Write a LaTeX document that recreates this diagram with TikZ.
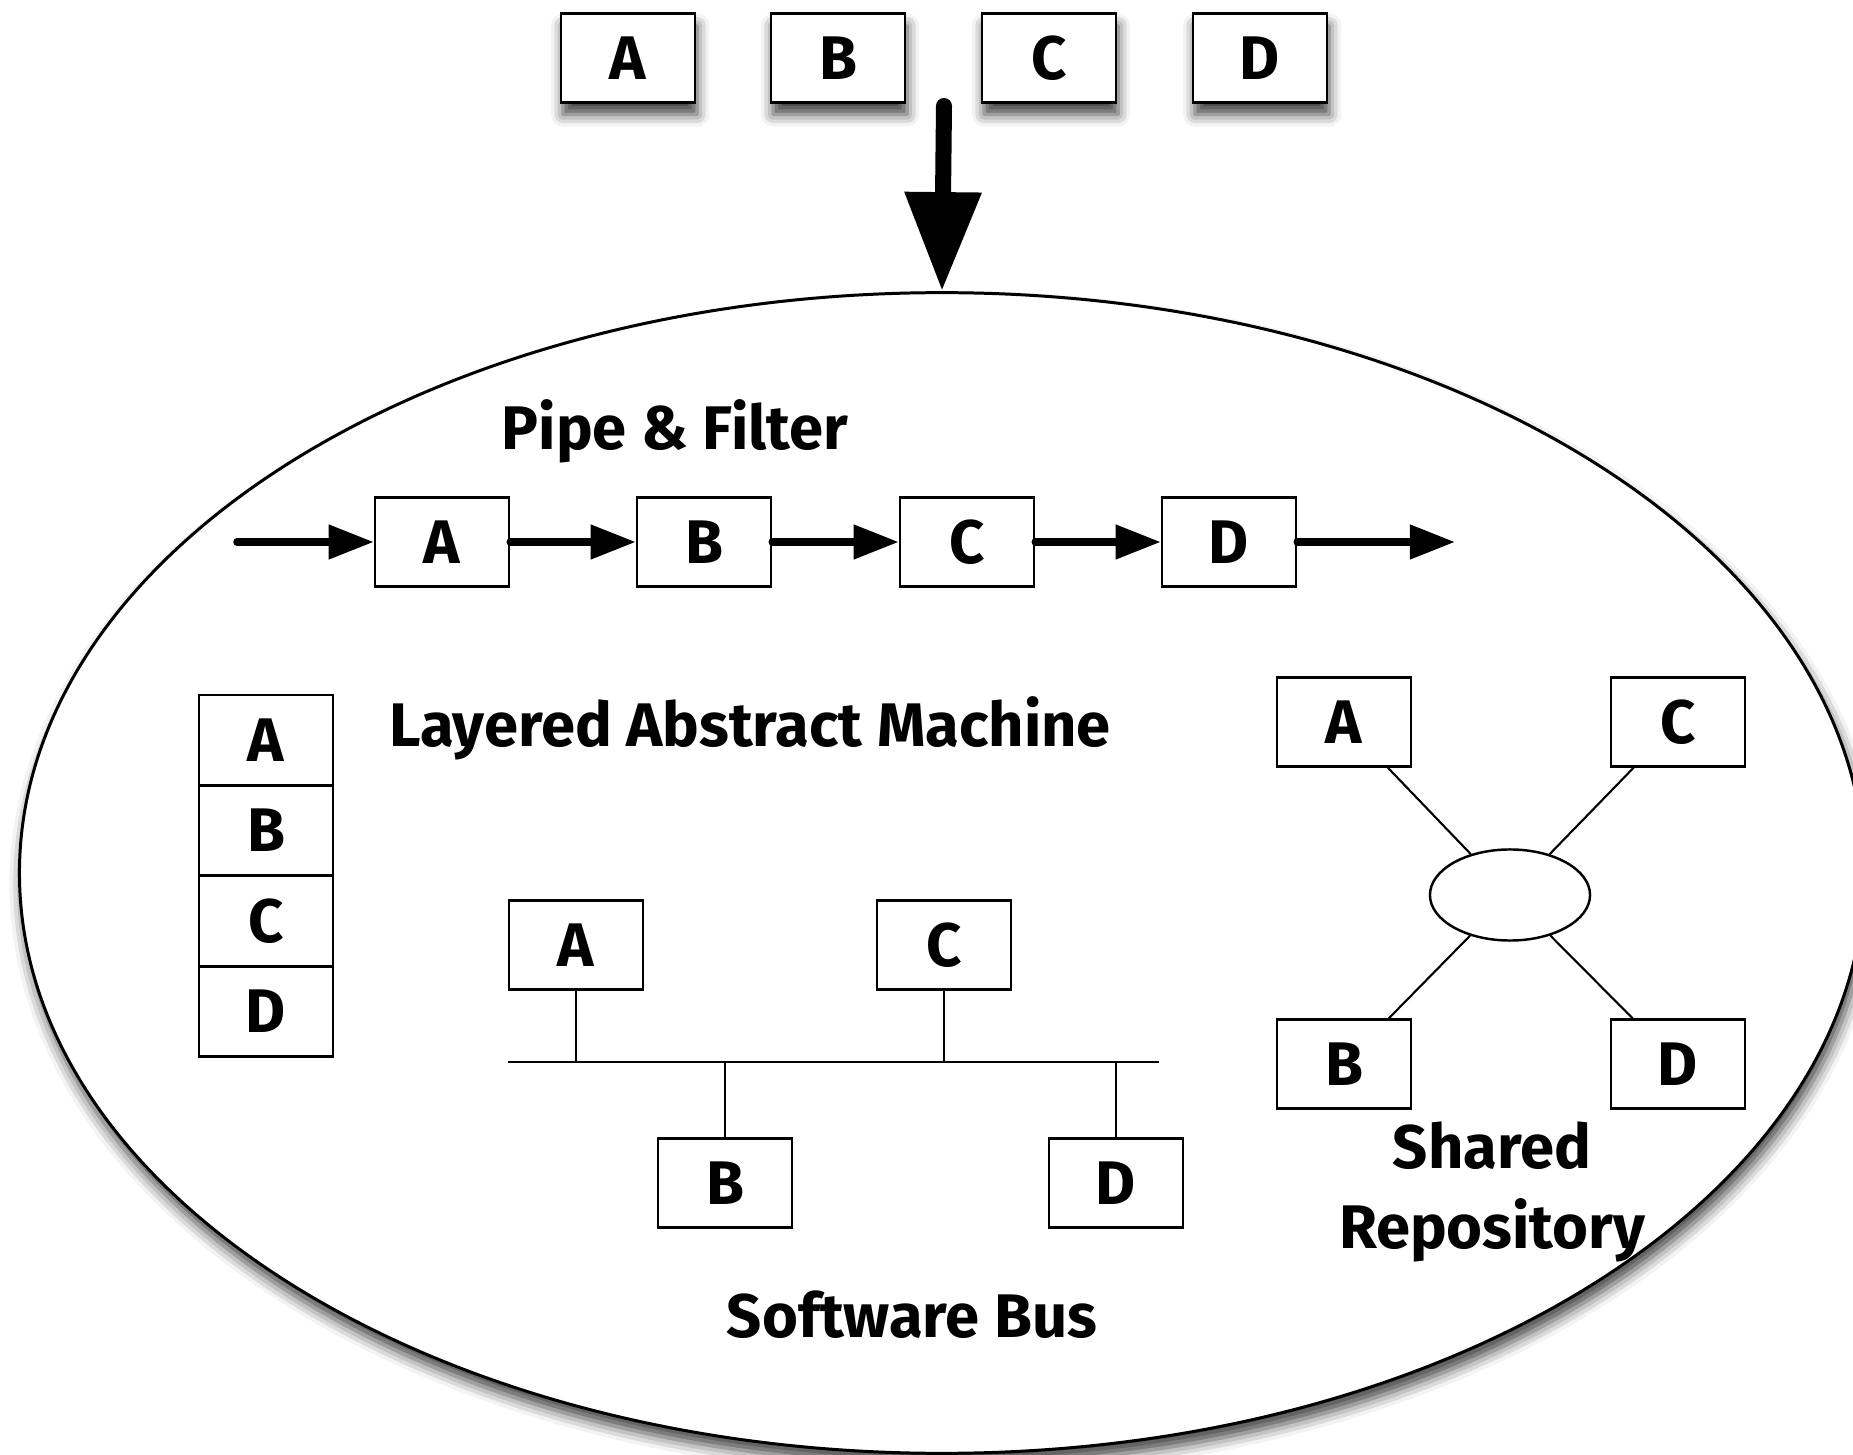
\documentclass[tikz,border=0pt]{standalone}
\usepackage{fontspec}
\setmainfont{Fira Sans}
\usetikzlibrary{shapes.geometric, arrows.meta, positioning, shadows.blur, calc}

\tikzset{
    box/.style={draw, line width=0.7pt, fill=white, minimum width=1.34cm,
        minimum height=0.89cm, inner sep=0pt,
        font=\fontsize{17.5}{21}\selectfont\bfseries},
    topbox/.style={box, blur shadow={shadow xshift=0.02cm, shadow yshift=-0.12cm,
        shadow blur radius=0.12cm, shadow opacity=75}},
    layer/.style={box, minimum height=0.904cm},
    bigoval/.style={draw, ellipse, line width=0.85pt, fill=white, inner sep=0pt,
        minimum width=18.44cm, minimum height=11.6cm,
        blur shadow={shadow xshift=0.03cm, shadow yshift=-0.11cm,
        shadow blur radius=0.13cm, shadow opacity=75}},
    repo/.style={draw, ellipse, line width=0.7pt, inner sep=0pt,
        minimum width=1.6cm, minimum height=0.91cm},
    title/.style={inner sep=0pt, font=\fontsize{17.5}{22.5}\selectfont\bfseries},
    pipe/.style={line width=0.075cm, line cap=round,
        -{Triangle[length=0.45cm, width=0.33cm]}},
    bigarrow/.style={line width=0.16cm, line cap=round,
        -{Triangle[length=0.99cm, width=0.73cm]}},
    link/.style={line width=0.6pt}
}

\begin{document}
\begin{tikzpicture}[x=0.01cm, y=-0.01cm]
    % Khung ảnh
    \clip (0,0) rectangle (1853,1455);

    % Hình elip lớn
    \node[bigoval] (arch) at (942,873) {};

    % Bốn thành phần ở trên
    \node[topbox] (ta) at (628,58) {A};
    \node[topbox] (tb) at (838,58) {B};
    \node[topbox] (tc) at (1049,58) {C};
    \node[topbox] (td) at (1260,58) {D};

    % Mũi tên lớn
    \coordinate (drop) at (944,106);
    \draw[bigarrow] (drop) -- (arch.north);

    % Pipe & Filter
    \node[title, anchor=base] (pftitle) at (675,450) {Pipe \& Filter};
    \node[box] (pa) at (442,542) {A};
    \node[box] (pb) at (704,542) {B};
    \node[box] (pc) at (967,542) {C};
    \node[box] (pd) at (1229,542) {D};
    \coordinate (pin) at (237,542);
    \coordinate (pout) at (1455,542);
    \draw[pipe] (pin) -- (pa);
    \draw[pipe] (pa) -- (pb);
    \draw[pipe] (pb) -- (pc);
    \draw[pipe] (pc) -- (pd);
    \draw[pipe] (pd) -- (pout);

    % Layered Abstract Machine
    \node[title, anchor=base] (lamtitle) at (750,747) {Layered Abstract Machine};
    \node[layer] (la) at (266,740) {A};
    \node[layer] (lb) at (266,830.5) {B};
    \node[layer] (lc) at (266,921) {C};
    \node[layer] (ld) at (266,1011.5) {D};

    % Software Bus
    \node[box] (ba) at (576,945) {A};
    \node[box] (bc) at (944,945) {C};
    \node[box] (bb) at (725,1183) {B};
    \node[box] (bd) at (1116,1183) {D};
    \coordinate (busl) at (508,1062);
    \coordinate (busr) at (1159,1062);
    \draw[line width=0.85pt] (busl) -- (busr);
    \draw[link] (ba.south) -- (ba.south |- busl);
    \draw[link] (bc.south) -- (bc.south |- busl);
    \draw[link] (bb.north) -- (bb.north |- busl);
    \draw[link] (bd.north) -- (bd.north |- busl);
    \node[title, anchor=base] (sbtitle) at (912,1338) {Software Bus};

    % Shared Repository
    \node[repo] (store) at (1510,895) {};
    \node[box] (ra) at (1344,722) {A};
    \node[box] (rc) at (1678,722) {C};
    \node[box] (rb) at (1344,1064) {B};
    \node[box] (rd) at (1678,1064) {D};
    \draw[link] (ra) -- (store);
    \draw[link] (rc) -- (store);
    \draw[link] (rb) -- (store);
    \draw[link] (rd) -- (store);
    \node[title, align=center] (srtitle) at (1492,1192) {Shared\\Repository};
\end{tikzpicture}
\end{document}
